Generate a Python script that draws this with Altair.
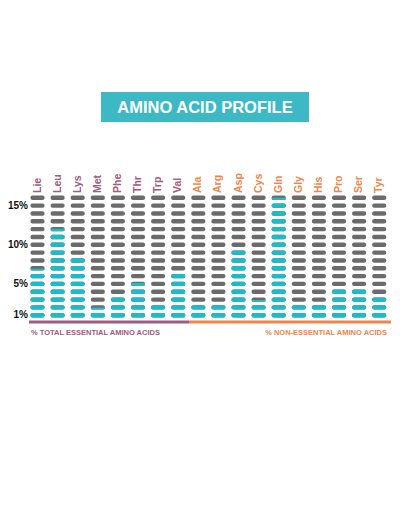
import altair as alt
import pandas as pd

acids = ["Lie", "Leu", "Lys", "Met", "Phe", "Thr", "Trp", "Val",
         "Ala", "Arg", "Asp", "Cys", "Gln", "Gly", "His", "Pro", "Ser", "Tyr"]
groups = ["essential"] * 8 + ["non-essential"] * 10
values = [6.4, 11.6, 8, 1.5, 3, 4.7, 2, 6,
          2, 2, 9, 2.4, 15.5, 2, 2, 4, 4, 3]
levels = list(range(1, 17))
tick_values = [1, 5, 10, 15]
tick_labels = ["1%", "5%", "10%", "15%"]

PURPLE = "#a15a80"
ORANGE = "#f0854a"
TEAL = "#1cbcc6"
GRAY = "#6b6b6b"
BOX = "#3db9c6"

HALF_W = 0.35
HALF_H = 0.28

recs = []
for i, (a, v) in enumerate(zip(acids, values)):
    for k in levels:
        frac = min(max(v - (k - 1), 0), 1)
        recs.append({
            "acid": a, "idx": i, "level": k,
            "x0": i - HALF_W, "x1": i + HALF_W,
            "y0": k - HALF_H, "y1": k + HALF_H,
            "yf": k - HALF_H + 2 * HALF_H * frac,
            "frac": frac,
        })
cells = pd.DataFrame(recs)
labels_df = pd.DataFrame({"acid": acids, "idx": list(range(len(acids))), "group": groups})
ticks_df = pd.DataFrame({"v": tick_values, "t": tick_labels})

W, H = 384, 495
xs = alt.Scale(domain=[-1.4677, 17.6363], nice=False, zero=False)
ys = alt.Scale(domain=[-22.98, 40.24], nice=False, zero=False)

gray = alt.Chart(cells).mark_rect(color=GRAY, cornerRadius=2).encode(
    x=alt.X("x0:Q", scale=xs, axis=None), x2="x1:Q",
    y=alt.Y("y0:Q", scale=ys, axis=None), y2="y1:Q",
)
teal = alt.Chart(cells).transform_filter("datum.frac > 0").mark_rect(
    color=TEAL, cornerRadius=2).encode(
    x=alt.X("x0:Q", scale=xs, axis=None), x2="x1:Q",
    y=alt.Y("y0:Q", scale=ys, axis=None), y2="yf:Q",
)
col_labels = alt.Chart(labels_df).mark_text(
    angle=270, align="left", baseline="middle", font="Liberation Sans",
    fontWeight="bold", fontSize=10.5).encode(
    x=alt.X("idx:Q", scale=xs, axis=None),
    y=alt.value(185),
    text="acid:N",
    color=alt.Color("group:N", scale=alt.Scale(domain=["essential", "non-essential"],
                                               range=[PURPLE, ORANGE]), legend=None),
)
ytick = alt.Chart(ticks_df).mark_text(
    align="right", baseline="middle", font="Liberation Sans", fontWeight="bold",
    fontSize=10, color="#111111").encode(
    x=alt.value(20),
    y=alt.Y("v:Q", scale=ys, axis=None),
    text="t:N",
)
base = alt.Chart(pd.DataFrame({"a": [0]}))
line_p = base.mark_rect(color=PURPLE).encode(
    x=alt.value(21), x2=alt.value(181), y=alt.value(312.5), y2=alt.value(315.5))
line_o = base.mark_rect(color=ORANGE).encode(
    x=alt.value(181), x2=alt.value(383), y=alt.value(312.5), y2=alt.value(315.5))
txt_p = base.mark_text(align="left", baseline="middle", font="Liberation Sans",
                       fontWeight="bold", fontSize=7.5, color=PURPLE).encode(
    x=alt.value(23), y=alt.value(325), text=alt.value("% TOTAL ESSENTIAL AMINO ACIDS"))
txt_o = base.mark_text(align="right", baseline="middle", font="Liberation Sans",
                       fontWeight="bold", fontSize=7.5, color=ORANGE).encode(
    x=alt.value(379), y=alt.value(325), text=alt.value("% NON-ESSENTIAL AMINO ACIDS"))
box = base.mark_rect(color=BOX).encode(
    x=alt.value(93), x2=alt.value(301), y=alt.value(84), y2=alt.value(114))
title = base.mark_text(align="center", baseline="middle", font="Liberation Sans",
                       fontWeight="bold", fontSize=16.5, color="white").encode(
    x=alt.value(197), y=alt.value(99.5), text=alt.value("AMINO ACID PROFILE"))

chart = alt.layer(box, title, gray, teal, col_labels, ytick, line_p, line_o, txt_p, txt_o).properties(
    width=W, height=H, padding=0, autosize=alt.AutoSizeParams(type="none"),
    background="white",
).configure_view(stroke=None)

chart.save("out.html", embed_options={"renderer": "svg", "actions": False})
